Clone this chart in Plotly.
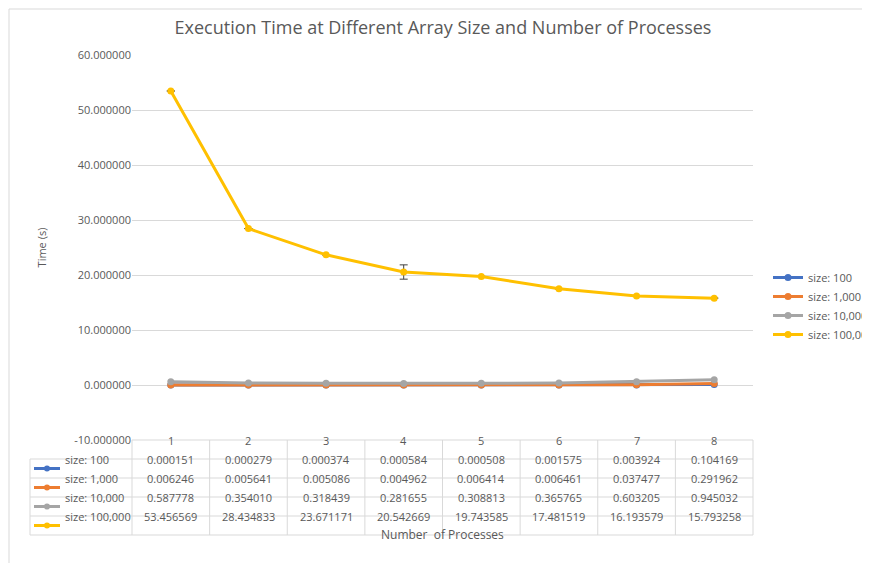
import plotly.graph_objects as go

procs = [1, 2, 3, 4, 5, 6, 7, 8]
series_names = ["size: 100", "size: 1,000", "size: 10,000", "size: 100,000"]
s100 = [0.000151, 0.000279, 0.000374, 0.000584, 0.000508, 0.001575, 0.003924, 0.104169]
s1000 = [0.006246, 0.005641, 0.005086, 0.004962, 0.006414, 0.006461, 0.037477, 0.291962]
s10000 = [0.587778, 0.354010, 0.318439, 0.281655, 0.308813, 0.365765, 0.603205, 0.945032]
s100000 = [53.456569, 28.434833, 23.671171, 20.542669, 19.743585, 17.481519, 16.193579, 15.793258]
err100000 = [0, 0, 0, 1.3, 0, 0, 0, 0]
y_ticks = [-10, 0, 10, 20, 30, 40, 50, 60]
y_tick_labels = ["-10.000000", "0.000000", "10.000000", "20.000000", "30.000000",
                 "40.000000", "50.000000", "60.000000"]
colors = ["#4472C4", "#ED7D31", "#A5A5A5", "#FFC000"]
data = [s100, s1000, s10000, s100000]

W, H = 870, 563
L, R, T, B = 124, 745, 47, 432
def py(p):
    return (B - p) / (B - T)
def px(p):
    return (p - L) / (R - L)

fig = go.Figure()
for i, (name, vals) in enumerate(zip(series_names, data)):
    kw = {}
    if i == 3:
        kw["error_y"] = dict(type="data", array=err100000, visible=True,
                             color="#404040", thickness=1, width=4)
    fig.add_trace(go.Scatter(x=procs, y=vals, name=name, mode="lines+markers",
                             line=dict(color=colors[i], width=3),
                             marker=dict(color=colors[i], size=7), **kw))

shapes = []
ann = []
row_h = 19
rows_top = [B, B + row_h, B + 2 * row_h, B + 3 * row_h, B + 4 * row_h]
bottom = B + 5 * row_h
lc = dict(color="#D9D9D9", width=1)
for yy in rows_top[1:] + [bottom]:
    shapes.append(dict(type="line", xref="paper", yref="paper", x0=px(22), x1=1,
                       y0=py(yy), y1=py(yy), line=lc))
shapes.append(dict(type="line", xref="paper", yref="paper", x0=0, x1=1,
                   y0=py(B), y1=py(B), line=lc))
for k in range(9):
    xx = L + k * (R - L) / 8
    shapes.append(dict(type="line", xref="paper", yref="paper", x0=px(xx), x1=px(xx),
                       y0=py(B), y1=py(bottom), line=lc))
shapes.append(dict(type="line", xref="paper", yref="paper", x0=px(22), x1=px(22),
                   y0=py(rows_top[1]), y1=py(bottom), line=lc))
for p in procs:
    ann.append(dict(x=p, y=py(B + row_h / 2), xref="x", yref="paper", text=str(p),
                    showarrow=False, font=dict(size=11, color="#595959")))
for i, (name, vals) in enumerate(zip(series_names, data)):
    yc = py(rows_top[i + 1] + row_h / 2)
    shapes.append(dict(type="line", xref="paper", yref="paper", x0=px(26), x1=px(52),
                       y0=yc, y1=yc, line=dict(color=colors[i], width=3)))
    shapes.append(dict(type="circle", xref="paper", yref="paper", x0=px(36), x1=px(42),
                       y0=yc - 3 / (B - T), y1=yc + 3 / (B - T),
                       fillcolor=colors[i], line=dict(width=0)))
    ann.append(dict(x=px(55), y=yc, xref="paper", yref="paper", text=name, xanchor="left",
                    showarrow=False, font=dict(size=11, color="#595959")))
    for p, v in zip(procs, vals):
        ann.append(dict(x=p, y=yc, xref="x", yref="paper", text=f"{v:.6f}",
                        showarrow=False, font=dict(size=11, color="#595959")))
ann.append(dict(x=0.5, y=py(537), xref="paper", yref="paper", text="Number  of Processes",
                showarrow=False, font=dict(size=12, color="#595959")))
shapes.append(dict(type="rect", xref="paper", yref="paper", x0=px(1), x1=px(869),
                   y0=py(1), y1=py(562), line=dict(color="#D9D9D9", width=1)))

fig.update_layout(
    width=W, height=H, margin=dict(l=L, r=W - R, t=T, b=H - B, autoexpand=False),
    paper_bgcolor="white", plot_bgcolor="white",
    font=dict(family="Open Sans, Calibri, sans-serif", color="#595959"),
    title=dict(text="Execution Time at Different Array Size and Number of Processes",
               x=0.5, xanchor="center", y=1 - 20 / H, yanchor="middle",
               font=dict(size=18, color="#595959")),
    xaxis=dict(range=[0.5, 8.5], showticklabels=False, showgrid=False, zeroline=False,
               showline=False),
    yaxis=dict(range=[-10, 60], tickvals=y_ticks, ticktext=y_tick_labels,
               gridcolor="#D9D9D9", zeroline=False, showline=False,
               tickfont=dict(size=11, color="#595959"),
               title=dict(text="Time (s)", font=dict(size=11, color="#595959"), standoff=25)),
    legend=dict(x=px(760), y=py(298), xanchor="left", yanchor="middle",
                font=dict(size=11, color="#595959"), tracegroupgap=2),
    shapes=shapes, annotations=ann,
)
fig.write_html("out.html")
